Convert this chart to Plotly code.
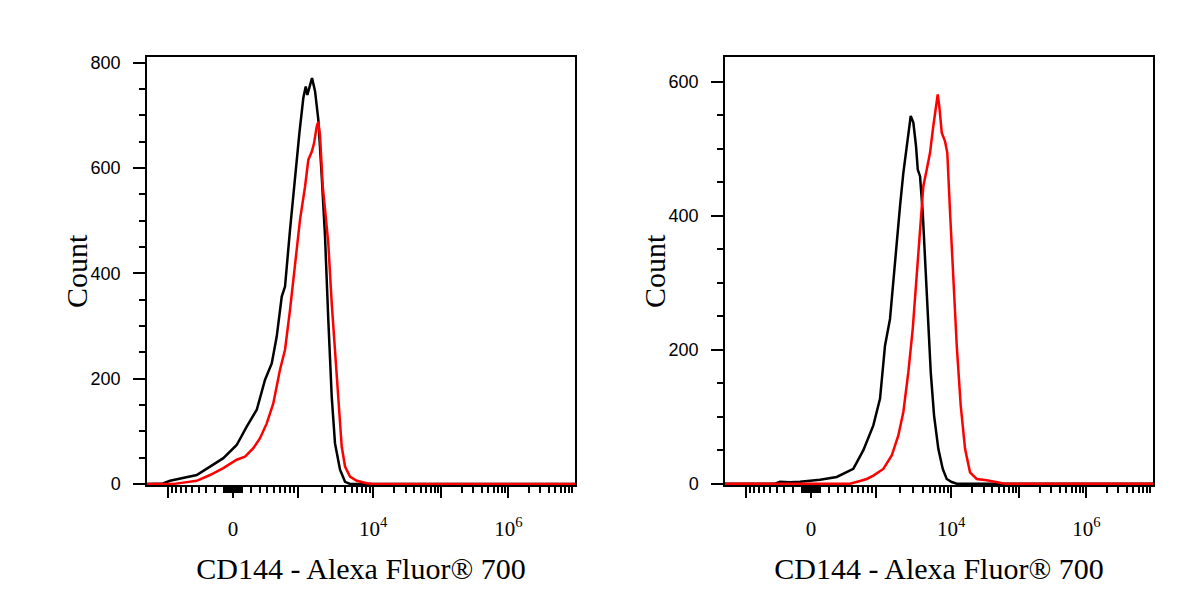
import numpy as np
import plotly.graph_objects as go

# ---- histogram curves, x in display units of the biexponential scale ----
left_black_x = [-1.284, -1.045, -0.940, -0.742, -0.542, -0.343, -0.145, 0.055, 0.204, 0.354,
                0.478, 0.578, 0.652, 0.727, 0.776, 0.851, 0.925, 0.990, 1.049, 1.085,
                1.109, 1.139, 1.179, 1.224, 1.273, 1.324, 1.373, 1.422, 1.473, 1.522,
                1.597, 1.672, 1.746, 5.104]
left_black_y = [0, 1, 6, 11, 17, 33, 49, 74, 109, 141,
                198, 229, 280, 356, 375, 483, 584, 666, 733, 755,
                739, 752, 771, 746, 692, 584, 470, 312, 166, 77,
                27, 4, 0, 0]

left_red_x = [-1.284, -0.891, -0.742, -0.542, -0.343, -0.145, 0.055, 0.179, 0.303, 0.403,
              0.503, 0.601, 0.701, 0.776, 0.851, 0.925, 1.000, 1.075, 1.124, 1.175,
              1.209, 1.249, 1.273, 1.299, 1.339, 1.373, 1.422, 1.473, 1.522, 1.572,
              1.622, 1.672, 1.746, 1.846, 1.996, 2.094, 5.104]
left_red_y = [0, 0, 2.5, 6, 17, 30, 46, 52, 68, 87,
              115, 153, 217, 255, 331, 419, 502, 565, 616, 631,
              647, 679, 688, 660, 565, 521, 457, 343, 248, 153,
              71, 33, 14, 6, 1.3, 0, 0]

right_black_x = [-1.284, -0.537, -0.463, -0.313, -0.164, -0.015, 0.134, 0.384, 0.631, 0.781,
                 0.930, 1.030, 1.104, 1.179, 1.228, 1.279, 1.328, 1.378, 1.428, 1.463,
                 1.488, 1.527, 1.567, 1.593, 1.627, 1.667, 1.701, 1.742, 1.787, 1.836,
                 1.900, 1.966, 2.025, 2.100, 2.175, 5.104]
right_black_y = [0, 0, 3, 2, 3, 4, 6, 10, 22, 50,
                 87, 127, 206, 246, 305, 365, 414, 464, 504, 534,
                 549, 539, 504, 469, 459, 405, 340, 256, 166, 102,
                 52, 22, 7, 2.5, 0, 0]

right_red_x = [-1.284, 0.582, 0.731, 0.831, 0.930, 1.079, 1.204, 1.303, 1.378, 1.452,
               1.518, 1.578, 1.627, 1.676, 1.727, 1.776, 1.825, 1.861, 1.891, 1.915,
               1.951, 2.000, 2.034, 2.075, 2.124, 2.175, 2.234, 2.299, 2.373, 2.473,
               2.622, 2.772, 2.896, 5.104]
right_red_y = [0, 0, 4, 7, 12, 22, 42, 72, 107, 166,
               231, 315, 375, 444, 469, 494, 534, 563, 581, 563,
               524, 511, 494, 405, 305, 206, 117, 52, 17, 7,
               5, 2.5, 0, 0]

# ---- axis ticks (raw fluorescence values) ----
major_vals = [-1e3, 0, 1e3, 1e4, 1e5, 1e6, 1e7]
major_text = ["", "0", "", "10<sup>4</sup>", "", "10<sup>6</sup>", ""]
minor_vals = ([k * 10 for k in range(1, 10)] + [-k * 10 for k in range(1, 10)]
              + [k * 100 for k in range(1, 10)] + [-k * 100 for k in range(1, 10)]
              + [k * 10 ** e for e in (3, 4, 5, 6) for k in range(2, 10)])

x_title = "CD144 - Alexa Fluor® 700"
y_title = "Count"
y_max = [811, 637]

# biexponential display transform (logicle-like), inverted on a grid
W0, P = 77.4, 3.0


def biex(d):
    a = np.abs(d)
    return np.sign(d) * W0 * (10 ** a - P ** 2 * 10 ** (-a / P) + P ** 2 - 1)


grid = np.linspace(-3, 6, 90001)
grid_v = biex(grid)


def to_display(v):
    return np.interp(np.asarray(v, dtype=float), grid_v, grid).tolist()


x_range = [-1.284, 5.104]

fig = go.Figure()
curves = [
    (left_black_x, left_black_y, "black", "x", "y"),
    (left_red_x, left_red_y, "red", "x", "y"),
    (right_black_x, right_black_y, "black", "x2", "y2"),
    (right_red_x, right_red_y, "red", "x2", "y2"),
]
for xs, ys, col, xa, ya in curves:
    fig.add_trace(go.Scatter(
        x=xs, y=ys, mode="lines", xaxis=xa, yaxis=ya,
        line=dict(color=col, width=2.5), showlegend=False, hoverinfo="skip"
    ))

xaxis_common = dict(
    range=x_range,
    tickmode="array",
    tickvals=to_display(major_vals),
    ticktext=major_text,
    ticks="outside", ticklen=11, tickwidth=2, tickcolor="black",
    minor=dict(tickmode="array", tickvals=to_display(minor_vals),
               ticks="outside", ticklen=6, tickwidth=1.5, tickcolor="black"),
    showline=True, linecolor="black", linewidth=1.5, mirror=True,
    showgrid=False, zeroline=False,
    tickfont=dict(family="Liberation Serif", size=21, color="black"),
    ticklabelstandoff=13,
    title=dict(text=x_title, font=dict(family="Liberation Serif", size=30, color="black"),
               standoff=18),
    layer="below traces",
    automargin=False,
)

yaxis_common = dict(
    tickmode="linear", tick0=0, dtick=200,
    ticks="outside", ticklen=12, tickwidth=2, tickcolor="black",
    minor=dict(dtick=50, ticks="outside", ticklen=6, tickwidth=1.5, tickcolor="black"),
    showline=True, linecolor="black", linewidth=1.5, mirror=True,
    showgrid=False, zeroline=False,
    tickfont=dict(family="Liberation Sans", size=18, color="black"),
    ticklabelstandoff=9,
    layer="below traces",
    automargin=False,
)

# y titles as rotated annotations next to each y axis
count_titles = [
    dict(text=y_title, xref=xr + " domain", yref=yr + " domain", x=0, y=0.5,
         xshift=-71, textangle=-90, showarrow=False, xanchor="center", yanchor="middle",
         font=dict(family="Liberation Serif", size=30, color="black"))
    for xr, yr in (("x", "y"), ("x2", "y2"))
]

# page has an 8 px body margin; plot area kept at the same absolute place (1110 x 500 px)
fig.update_layout(
    width=1184, height=584,
    margin=dict(l=52, r=22, t=32, b=52),
    plot_bgcolor="white", paper_bgcolor="white",
    xaxis=dict(domain=[0.07838, 0.46396], anchor="y", **xaxis_common),
    xaxis2=dict(domain=[0.59910, 0.98468], anchor="y2", **xaxis_common),
    yaxis=dict(domain=[0.11, 0.966], anchor="x", range=[-2, y_max[0]], **yaxis_common),
    yaxis2=dict(domain=[0.11, 0.966], anchor="x2", range=[-2, y_max[1]], **yaxis_common),
    annotations=count_titles,
)

fig.write_html("out.html", config={"displayModeBar": False})
